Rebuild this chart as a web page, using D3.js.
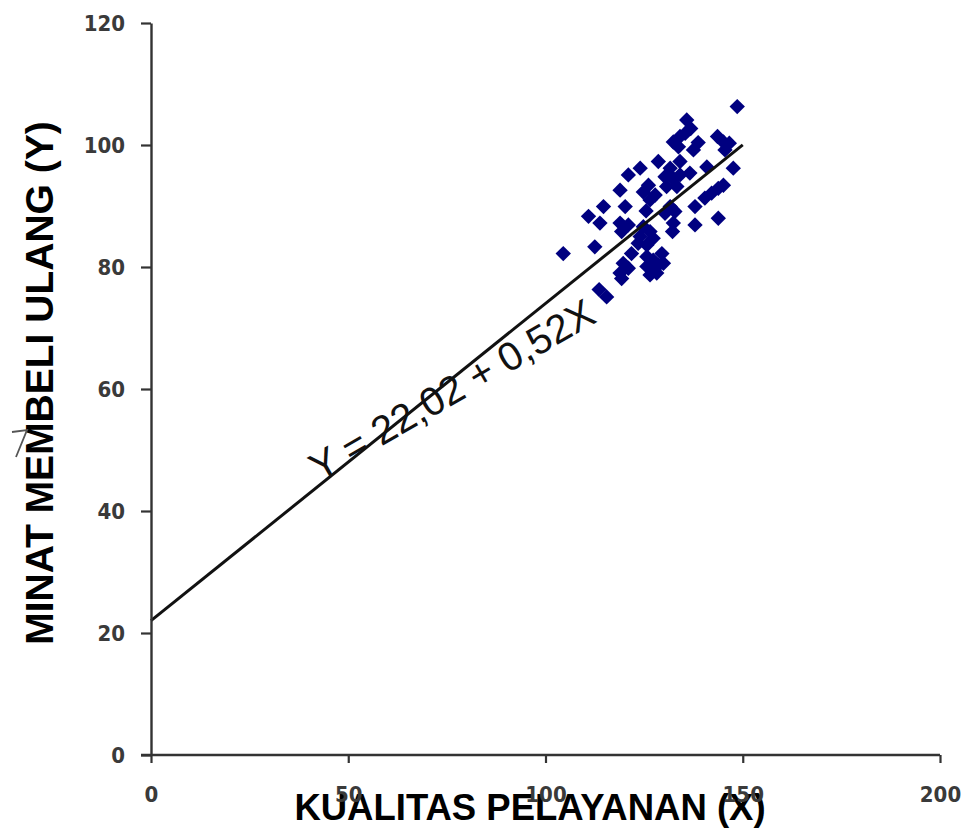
<!DOCTYPE html>
<html>
<head>
<meta charset="utf-8">
<script src="https://cdn.jsdelivr.net/npm/d3@7/dist/d3.min.js"></script>
<style>
  html, body { margin: 0; padding: 0; background: #fff; }
  svg { display: block; }
</style>
</head>
<body>
<svg id="chart" width="965" height="831"></svg>
<script>
// Kualitas pelayanan (X) vs minat membeli ulang (Y), one entry per respondent
const kualitasX = [
  148.6, 135.8, 136.8, 135.4, 134.1, 132.4, 133.7, 138.7, 137.5, 143.6,
  145.1, 146.6, 145.5, 147.6, 140.9, 128.6, 134.1, 124.0, 121.0, 131.6,
  130.3, 132.4, 130.7, 133.3, 134.1, 136.6, 126.1, 124.8, 127.8, 126.5,
  118.9, 120.2, 114.7, 110.9, 113.8, 118.9, 121.0, 119.3, 124.8, 126.5,
  124.0, 127.3, 125.7, 123.5, 131.6, 132.8, 130.3, 132.4, 132.2, 137.9,
  137.9, 140.4, 142.1, 143.8, 145.1, 143.8, 104.5, 112.5, 121.8, 119.7,
  121.0, 118.9, 119.3, 125.7, 127.3, 128.6, 126.9, 129.5, 125.7, 128.2,
  129.9, 113.6, 115.5, 126.5, 125.5
];
const minatY = [
  106.3, 104.1, 102.7, 101.9, 101.4, 100.5, 99.7, 100.4, 99.2, 101.4,
  100.5, 100.3, 99.2, 96.2, 96.4, 97.3, 97.3, 96.2, 95.1, 96.2,
  94.8, 94.5, 93.2, 93.2, 95.1, 95.4, 93.4, 92.3, 91.8, 91.0,
  92.6, 89.9, 89.9, 88.3, 87.2, 87.2, 86.9, 85.8, 86.6, 85.8,
  85.0, 84.7, 83.6, 83.9, 89.9, 89.1, 88.8, 87.2, 85.8, 89.9,
  86.9, 91.3, 92.1, 92.9, 93.4, 88.0, 82.2, 83.3, 82.2, 80.6,
  79.8, 79.0, 78.1, 81.7, 81.1, 80.3, 79.5, 82.2, 80.1, 79.0,
  80.6, 76.3, 75.1, 78.7, 89.2
];

// Fitted regression Y = a + bX, drawn over the observed range of X
const intercept = 22.02;
const slope = 0.52;
const lineRangeX = [0, 150];
const equationText = "Y = 22,02 + 0,52X";

const xTicks = [0, 50, 100, 150, 200];
const yTicks = [0, 20, 40, 60, 80, 100, 120];
const xTitle = "KUALITAS PELAYANAN (X)";
const yTitle = "MINAT MEMBELI ULANG (Y)";

const points = kualitasX.map((x, i) => ({ x, y: minatY[i] }));

const svg = d3.select("#chart");
svg.append("rect").attr("width", 965).attr("height", 831).attr("fill", "#fff");

const x = d3.scaleLinear().domain([0, 200]).range([151, 940]);
const y = d3.scaleLinear().domain([0, 120]).range([755, 23]);

const tickFont = "'DejaVu Sans Condensed', 'DejaVu Sans', sans-serif";
const axisColor = "#333";

// Axis titles
svg.append("text")
  .attr("x", 530).attr("y", 820)
  .attr("text-anchor", "middle")
  .attr("font-family", "'Liberation Sans', Arial, sans-serif")
  .attr("font-weight", "bold")
  .attr("font-size", 36.5)
  .attr("fill", "#000")
  .text(xTitle);

svg.append("text")
  .attr("transform", "translate(53,383) rotate(-90)")
  .attr("text-anchor", "middle")
  .attr("font-family", "'Liberation Sans', Arial, sans-serif")
  .attr("font-weight", "bold")
  .attr("font-size", 39)
  .attr("fill", "#000")
  .text(yTitle);

// small pen stroke over the vertical title
svg.append("path")
  .attr("d", "M12,432 L27,430 L16,457")
  .attr("fill", "none")
  .attr("stroke", "#555")
  .attr("stroke-width", 1.8);

// Scatter of respondents
svg.append("g")
  .selectAll("path")
  .data(points)
  .join("path")
  .attr("d", d3.symbol(d3.symbolSquare, 118))
  .attr("transform", d => `translate(${x(d.x)},${y(d.y)}) rotate(45)`)
  .attr("fill", "#000080");

// Regression line
const line = d3.line().x(d => x(d)).y(d => y(intercept + slope * d));
svg.append("path")
  .attr("d", line(lineRangeX))
  .attr("fill", "none")
  .attr("stroke", "#111")
  .attr("stroke-width", 3);

// Equation placed along the fitted line
const eqAt = { x: 78, y: 57.9 };
svg.append("text")
  .attr("transform", `translate(${x(eqAt.x)},${y(eqAt.y)}) rotate(-30)`)
  .attr("text-anchor", "middle")
  .attr("font-family", "'Liberation Sans', Arial, sans-serif")
  .attr("font-size", 40)
  .attr("fill", "#111")
  .text(equationText);

// Axes
const yAxis = svg.append("g")
  .attr("transform", `translate(${x(0)},0)`)
  .call(d3.axisLeft(y).tickValues(yTicks).tickSize(10).tickSizeOuter(0).tickPadding(16));

const xAxis = svg.append("g")
  .attr("transform", `translate(0,${y(0)})`)
  .call(d3.axisBottom(x).tickValues(xTicks).tickSize(8).tickSizeOuter(0).tickPadding(23));

[yAxis, xAxis].forEach(g => {
  g.select(".domain").attr("stroke", axisColor).attr("stroke-width", 2.4);
  g.selectAll(".tick line").attr("stroke", axisColor).attr("stroke-width", 2.2);
  g.selectAll(".tick text")
    .attr("font-family", tickFont)
    .attr("font-weight", "bold")
    .attr("font-size", 22)
    .attr("fill", "#3a3a3a");
});
// x axis line runs under the zero tick of the y axis
xAxis.select(".domain").attr("d", `M${x(0) - 10},0H${x(200)}`);
</script>
</body>
</html>
